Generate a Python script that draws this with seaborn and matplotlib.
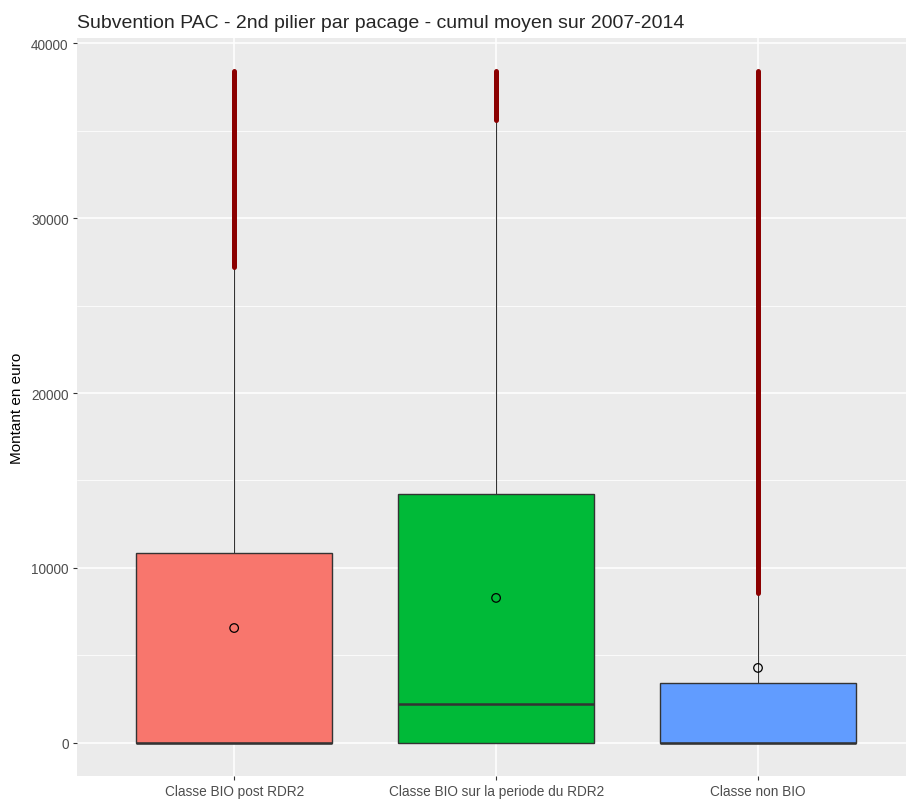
import matplotlib
matplotlib.use("Agg")
import matplotlib.pyplot as plt
import seaborn as sns
import pandas as pd
from matplotlib.ticker import MultipleLocator

# summary statistics
categories = ["Classe BIO post RDR2", "Classe BIO sur la periode du RDR2", "Classe non BIO"]
q1 = [0, 0, 0]
medians = [0, 2230, 0]
q3 = [10850, 14230, 3430]
whisker_lo = [0, 0, 0]
whisker_hi = [27200, 35600, 8580]
means = [6570, 8290, 4290]
outlier_lo = [27200, 35600, 8580]
outlier_hi = [38400, 38400, 38400]
colors = ["#F8766D", "#00BA38", "#619CFF"]
yticks = [0, 10000, 20000, 30000, 40000]


def main():
    sns.set_theme(style="darkgrid", rc={
        "axes.facecolor": "#EBEBEB",
        "grid.color": "white",
        "axes.edgecolor": "#EBEBEB",
    })
    plt.rcParams["font.family"] = ["Liberation Sans", "DejaVu Sans"]

    fig = plt.figure(figsize=(9.06, 8.03), dpi=100)
    ax = fig.add_axes([77 / 906, 26 / 803, 829 / 906, 738 / 803])

    positions = list(range(len(categories)))
    stats = []
    for i, cat in enumerate(categories):
        stats.append(dict(label=cat, q1=q1[i], med=medians[i], q3=q3[i],
                          whislo=whisker_lo[i], whishi=whisker_hi[i], fliers=[]))

    bp = ax.bxp(stats, positions=positions, widths=0.75, patch_artist=True,
                showfliers=False, showcaps=False,
                boxprops=dict(edgecolor="#333333", linewidth=1.0),
                medianprops=dict(color="#333333", linewidth=1.8),
                whiskerprops=dict(color="#333333", linewidth=0.8))
    for patch, col in zip(bp["boxes"], colors):
        patch.set_facecolor(col)
        patch.set_zorder(2)

    # dense outliers form a thick dark red band
    ax.vlines(positions, outlier_lo, outlier_hi, color="#8B0000",
              linewidth=3.6, zorder=3, capstyle="round")

    df = pd.DataFrame({"pos": positions, "mean": means})
    sns.scatterplot(data=df, x="pos", y="mean", ax=ax, marker="o", s=38,
                    facecolor="none", edgecolor="black", linewidth=0.9, zorder=4)

    ax.set_xlim(-0.6, 2.565)
    ax.set_ylim(-1886, 40286)
    ax.set_yticks(yticks)
    ax.set_yticklabels([str(v) for v in yticks])
    ax.yaxis.set_minor_locator(MultipleLocator(5000))
    ax.grid(which="major", color="white", linewidth=1.1)
    ax.grid(which="minor", axis="y", color="white", linewidth=0.55)
    ax.set_xticks(positions)
    ax.set_xticklabels(categories)
    ax.tick_params(axis="both", which="major", labelsize=9.8, labelcolor="#4D4D4D",
                   length=3, color="#333333", width=0.8, pad=3, bottom=True, left=True)
    ax.tick_params(axis="both", which="minor", length=0)
    ax.set_xlabel("")
    ax.set_ylabel("Montant en euro", fontsize=11, color="black", labelpad=5)
    for s in ax.spines.values():
        s.set_visible(False)
    ax.set_title("Subvention PAC - 2nd pilier par pacage - cumul moyen sur 2007-2014",
                 loc="left", fontsize=14, pad=8)

    fig.savefig("out.png", dpi=100)


if __name__ == "__main__":
    main()
